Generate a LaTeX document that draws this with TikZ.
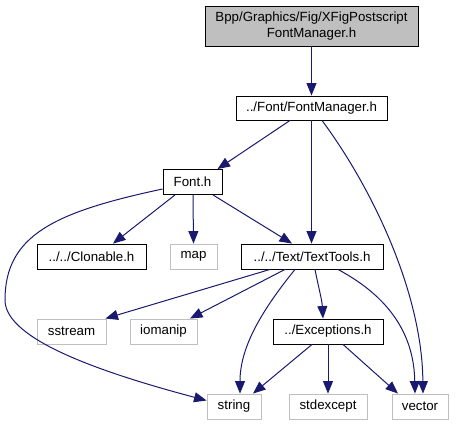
\documentclass[tikz,border=0pt]{standalone}
\usepackage{fontspec}
\setmainfont{Liberation Sans}
\usetikzlibrary{arrows.meta}
\definecolor{edgeblue}{HTML}{191970}
\definecolor{lgray}{HTML}{BFBFBF}
\tikzset{
  box/.style={draw=black, line width=0.9pt, fill=white, inner sep=0pt, minimum height=24pt,
    font=\fontsize{13.3}{15.5}\selectfont, align=center},
  sysbox/.style={box, draw=lgray},
  topbox/.style={box, fill=lgray, minimum height=40pt},
  dep/.style={draw=edgeblue, line width=1pt, -{Triangle[length=12.5pt,width=10pt]}, fill=none}
}
\begin{document}
\begin{tikzpicture}[x=1pt,y=-1pt]
\useasboundingbox (0,0) rectangle (456,425);
\node[topbox, minimum width=213pt] (top) at (311.5,26) {Bpp/Graphics/Fig/XFigPostscript\\FontManager.h};
\node[box, minimum width=151pt] (fm) at (311.5,108) {../Font/FontManager.h};
\node[box, minimum width=59pt, minimum height=25pt] (font) at (192.5,182) {Font.h};
\node[box, minimum width=109pt, minimum height=25pt] (clon) at (91.5,256.5) {../../Clonable.h};
\node[sysbox, minimum width=47pt, minimum height=25pt] (map) at (193.5,256.5) {map};
\node[box, minimum width=142pt, minimum height=25pt] (tt) at (312,256.5) {../../Text/TextTools.h};
\node[sysbox, minimum width=69pt, minimum height=25pt] (ss) at (71.5,331.5) {sstream};
\node[sysbox, minimum width=67pt, minimum height=25pt] (io) at (163.5,331.5) {iomanip};
\node[box, minimum width=110pt, minimum height=25pt] (exc) at (328,331.5) {../Exceptions.h};
\node[sysbox, minimum width=54pt, minimum height=25pt] (str) at (234,406.5) {string};
\node[sysbox, minimum width=78pt, minimum height=25pt] (std) at (328,406.5) {stdexcept};
\node[sysbox, minimum width=56pt, minimum height=25pt] (vec) at (420,406.5) {vector};

\draw[dep] (top.south) -- (fm.north);
\draw[dep] ([xshift=-21.5]fm.south) -- ([xshift=25]font.north);
\draw[dep] (fm.south) -- ([xshift=-0.5]tt.north);
\draw[dep] ([xshift=10.5]fm.south) .. controls (370,185) and (422,290) .. ([xshift=3]vec.north);

\draw[dep] ([yshift=-7]font.west) .. controls (55,212) and (5,235) .. (5,300)
  .. controls (5,335) and (80,367) .. ([yshift=6]str.west);
\draw[dep] ([xshift=-17.5]font.south) -- ([xshift=21.5]clon.north);
\draw[dep] ([xshift=0.5]font.south) -- (map.north);
\draw[dep] ([xshift=20.5]font.south) -- ([xshift=-20]tt.north);

\draw[dep] ([xshift=-42]tt.south) -- ([xshift=-1]ss.north east);
\draw[dep] ([xshift=-27]tt.south) -- ([xshift=26.5]io.north);
\draw[dep] ([xshift=-17]tt.south) .. controls (258,315) and (240,350) .. ([xshift=6]str.north);
\draw[dep] ([xshift=3]tt.south) .. controls (318,285) and (322,300) .. ([xshift=-5]exc.north);
\draw[dep] ([xshift=26]tt.south) .. controls (395,300) and (414,340) .. ([xshift=-5]vec.north);

\draw[dep] ([xshift=-16]exc.south) -- ([xshift=19]str.north);
\draw[dep] (exc.south) -- (std.north);
\draw[dep] ([xshift=15]exc.south) -- ([xshift=-22]vec.north);
\end{tikzpicture}
\end{document}
